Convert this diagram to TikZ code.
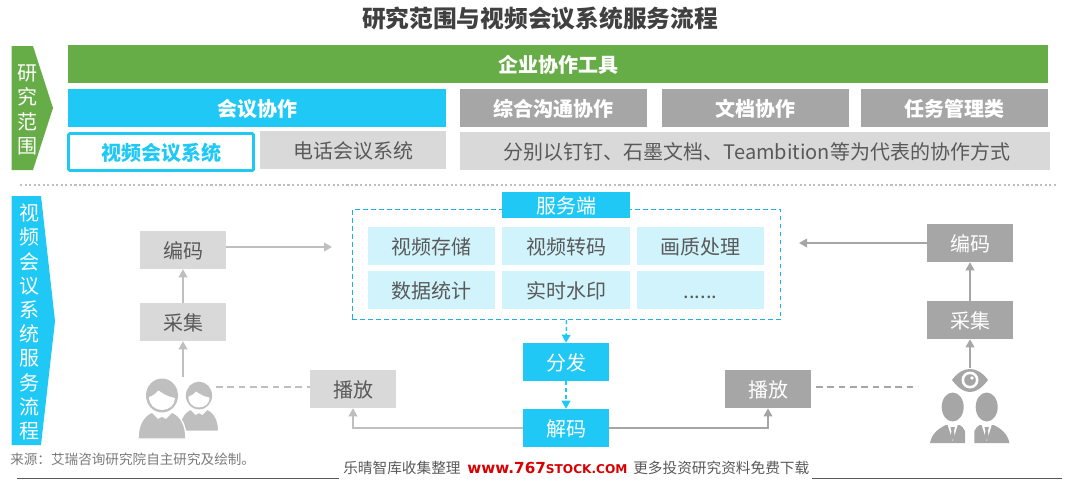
\documentclass[tikz,border=0pt]{standalone}
\usepackage{fontspec}
\setmainfont{Noto Sans CJK SC}
\newfontfamily\wwwfont{DejaVu Sans}
\usetikzlibrary{arrows.meta}

\definecolor{barGreen}{HTML}{66AD47}
\definecolor{barBlue}{HTML}{1FC8F5}
\definecolor{cellBlue}{HTML}{D0F3FC}
\definecolor{frameBlue}{HTML}{1BAEE0}
\definecolor{boxDark}{HTML}{A6A6A6}
\definecolor{boxLight}{HTML}{D9D9D9}
\definecolor{txtGray}{HTML}{595959}
\definecolor{lineGray}{HTML}{BFBFBF}

\tikzset{
	box/.style={inner sep=0pt, minimum width=64.5pt, minimum height=28.5pt,
		text height=14pt, text depth=1pt, text=txtGray,
		font=\fontsize{15}{18}\selectfont},
	wide/.style={minimum width=#1*0.75pt},
	tall/.style={minimum height=#1*0.75pt},
	head/.style={box, text=white, font=\fontsize{15}{18}\bfseries\selectfont},
	side/.style={inner sep=0pt, align=center, text=white,
		font=\fontsize{15}{18.15}\selectfont},
	lightlink/.style={draw=lineGray, line width=1.1pt,
		-{Triangle[width=6.5pt,length=6pt]}},
	darklink/.style={draw=boxDark, line width=1.1pt,
		-{Triangle[width=6.5pt,length=6pt]}},
	bluelink/.style={draw=barBlue, line width=1.1pt, dash pattern=on 3pt off 2pt,
		-{Triangle[width=6.5pt,length=6pt]}},
}

\begin{document}
\begin{tikzpicture}[x=0.75pt, y=-0.75pt]

	\useasboundingbox (0,0) rectangle (1072,480);

	\node[font=\fontsize{17.8}{20}\bfseries\selectfont, text=black!75, inner sep=0pt] (title) at (540,18) {研究范围与视频会议系统服务流程};

	% side arrows
	\fill[barGreen] (11.5,46) -- (33,46) -- (53,108) -- (33,170) -- (11.5,170) -- cycle;
	\fill[barBlue] (11.5,196) -- (41,196) -- (55,321) -- (41,445) -- (11.5,445) -- cycle;
	\node[side] (scope1) at (27,110) {研\\究\\范\\围};
	\node[side] (scope2) at (29,322) {视\\频\\会\\议\\系\\统\\服\\务\\流\\程};

	% upper part
	\node[head, fill=barGreen, wide=980] (tool) at (558,64) {企业协作工具};
	\node[head, fill=barBlue, wide=378] (meet) at (257,108) {会议协作};
	\foreach \n / \x / \w / \t in {
	chat/553.5/187/综合沟通协作,
	docs/755.5/187/文档协作,
	task/954.5/187/任务管理类}
	{
		\node[head, fill=boxDark, wide=\w] (\n) at (\x,108) {\t};
	};
	\node[head, text=barBlue, fill=white, draw=barBlue, line width=2.2pt, rounded corners=1pt, wide=185, tall=37] (video) at (161,152) {视频会议系统};
	\node[box, fill=boxLight, wide=186] (phone) at (353,150) {电话会议系统};
	\node[box, fill=boxLight, wide=590] (other) at (755,151) {\hspace*{3pt}分别以钉钉、石墨文档、Teambition等为代表的协作方式};

	\draw[lineGray, line width=1.5pt, dash pattern=on 1.6pt off 1.8pt] (20,185) -- (1058,185);

	% server
	\node[draw=frameBlue, line width=0.9pt, dash pattern=on 3.5pt off 2.5pt, inner sep=0pt, minimum width=321.5pt, minimum height=82.5pt] (srv) at (566.5,264.5) {};
	\node[box, fill=barBlue, text=white, wide=128, tall=26] (srvhead) at (566,205) {服务端};
	\foreach \n / \x / \y / \w / \t in {
	c1/431.5/246/127/视频存储,
	c2/566/246/128/视频转码,
	c3/700.5/246/127/画质处理,
	c4/431.5/290/127/数据统计,
	c5/566/290/128/实时水印}
	{
		\node[box, fill=cellBlue, wide=\w] (\n) at (\x,\y) {\t};
	};
	\node[box, fill=cellBlue, wide=127] (c6) at (700.5,290) {......};

	% boxes
	\foreach \n / \x / \y / \t in {
	codeL/183/250/编码,
	capL/183/322/采集,
	playL/353/389/播放}
	{
		\node[box, fill=boxLight] (\n) at (\x,\y) {\t};
	};
	\foreach \n / \x / \y / \t in {
	codeR/970/243/编码,
	capR/970/320/采集,
	playR/768/389/播放}
	{
		\node[box, fill=boxDark, text=white] (\n) at (\x,\y) {\t};
	};
	\foreach \n / \y / \t in {
	dist/362/分发,
	dec/428/解码}
	{
		\node[box, fill=barBlue, text=white] (\n) at (566,\y) {\t};
	};

	\coordinate (inL) at (332,247);
	\coordinate (inR) at (799,243);
	\coordinate (pL) at (183,377);
	\coordinate (pR) at (970,368);
	\coordinate (dashL) at (216,387);
	\coordinate (dashR1) at (816,387);
	\coordinate (dashR2) at (918,387);

	% connectors
	\foreach \i / \j in {
	capL.north/codeL.south,
	pL/capL.south}
	{
		\draw[lightlink] (\i) -- (\j);
	};
	\foreach \i / \j in {
	capR.north/codeR.south,
	pR/capR.south,
	codeR.west/inR}
	{
		\draw[darklink] (\i) -- (\j);
	};
	\foreach \i / \j in {
	srv.south/dist.north,
	dist.south/dec.north}
	{
		\draw[bluelink] (\i) -- (\j);
	};
	\draw[lightlink] (codeL.east |- inL) -- (inL);
	\draw[lightlink] (dec.west) -| (playL.south);
	\draw[darklink] (dec.east) -| (playR.south);
	\draw[lineGray, line width=1pt, dash pattern=on 5pt off 3.5pt] (dashL) -- (playL.west |- dashL);
	\draw[boxDark, line width=1pt, dash pattern=on 5pt off 3.5pt] (dashR1) -- (dashR2);

	% people, left
	\foreach \cx / \s in {199/0.82, 162/1}
	{
		\begin{scope}[shift={(\cx,396)}, scale=\s]
			\fill[lineGray] (0,-0.5) ellipse [x radius=16, y radius=17];
			\fill[white] (-13,1) .. controls (-9,0) and (-6,-3) .. (-3.5,-5.5) .. controls (1,-2) and (7,1) .. (13,2) .. controls (13,9) and (7,14) .. (0,14) .. controls (-7,14) and (-13,9) .. (-13,1) -- cycle;
			\filldraw[fill=lineGray, draw=white, line width=1pt] (-24,43) .. controls (-24,29) and (-19,20) .. (-10,16) -- (-4,22) -- (0,20) -- (4,22) -- (10,16) .. controls (19,20) and (24,29) .. (24,43) -- cycle;
		\end{scope}
	};

	% people, right
	\fill[boxDark] (952,380) .. controls (958,372) and (964,369) .. (970,369) .. controls (976,369) and (982,372) .. (988,380) .. controls (982,388) and (976,392) .. (970,392) .. controls (964,392) and (958,388) .. (952,380) -- cycle;
	\fill[white] (970,380) circle [radius=8.5];
	\fill[boxDark] (970,380) circle [radius=5.8];
	\fill[white] (972,378) circle [radius=1.8];
	\foreach \cx / \s in {952.7/1, 986.7/-1}
	{
		\begin{scope}[shift={(\cx,407)}, xscale=\s]
			\fill[boxDark] (0,0) ellipse [x radius=11, y radius=14.5];
			\fill[boxDark] (-22.7,36) .. controls (-21,27) and (-15,22) .. (-7,18) -- (7,18) .. controls (9,19) and (11,21) .. (12.3,24) -- (12.3,36) -- cycle;
			\fill[white] (-5,18) -- (5,18) -- (0,34) -- cycle;
			\fill[boxDark] (-2.2,20) -- (2.2,20) -- (1.3,24) -- (2,30) -- (0,33) -- (-2,30) -- (-1.3,24) -- cycle;
		\end{scope}
	};

	% footer
	\node[anchor=west, inner sep=0pt, text=txtGray!80, font=\fontsize{10.2}{12}\selectfont] (source) at (10,459) {来源：艾瑞咨询研究院自主研究及绘制。};
	\node[anchor=west, inner sep=0pt, text=txtGray, font=\fontsize{11}{13}\selectfont] (note1) at (343,468) {乐晴智库收集整理};
	\node[anchor=west, inner sep=0pt, text=red!85!black, font=\wwwfont\fontsize{11.4}{13}\bfseries\selectfont] (link) at (467,468) {www.767{\fontsize{9.1}{13}\selectfont STOCK.COM}};
	\node[anchor=west, inner sep=0pt, text=txtGray, font=\fontsize{11}{13}\selectfont] (note2) at (633,468) {更多投资研究资料免费下载};
	\coordinate (rule1) at (17,478.5);
	\coordinate (rule2) at (339,478.5);
	\coordinate (rule3) at (812,478.5);
	\coordinate (rule4) at (1062,478.5);
	\draw[txtGray, line width=0.6pt] (rule1) -- (rule2) (rule3) -- (rule4);
\end{tikzpicture}
\end{document}
